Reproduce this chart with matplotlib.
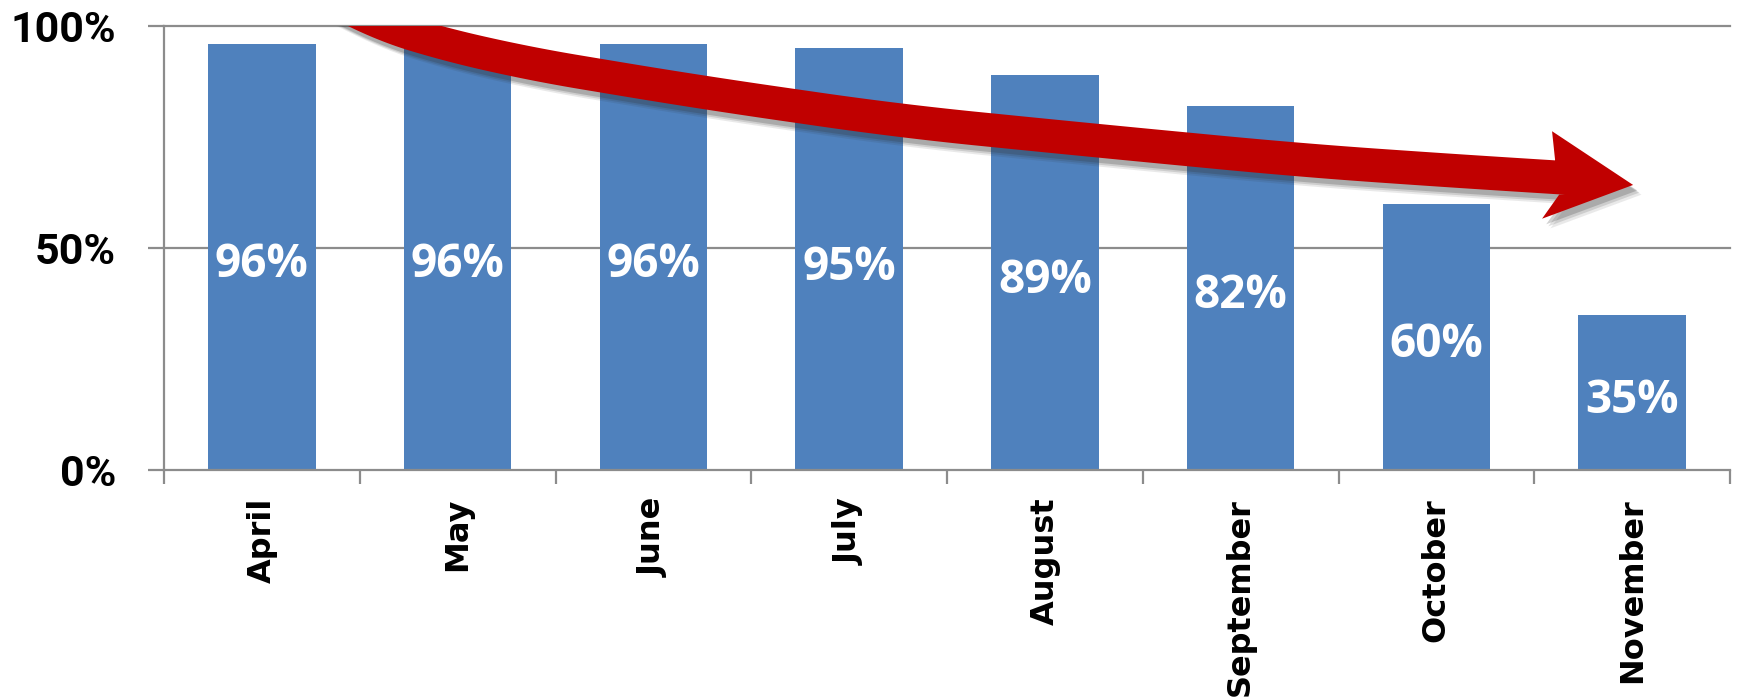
import numpy as np
import matplotlib
matplotlib.use("Agg")
import matplotlib.pyplot as plt
from matplotlib.patches import Polygon
from matplotlib.ticker import FixedLocator
import matplotlib.patheffects as pe
from matplotlib.transforms import offset_copy

# ---- data ----
months = ["April", "May", "June", "July", "August", "September", "October", "November"]
values = [0.96, 0.96, 0.96, 0.95, 0.89, 0.82, 0.60, 0.35]
value_labels = ["96%", "96%", "96%", "95%", "89%", "82%", "60%", "35%"]
y_ticks = [0.0, 0.5, 1.0]
y_tick_labels = ["0%", "50%", "100%"]

# decorative trend arrow (data coords: x = category index, y = fraction)
arrow_cx = [0.195, 0.363, 0.706, 1.216, 2.238, 3.260, 4.282, 5.303, 5.814, 6.325, 6.657]
arrow_cy = [1.092, 1.036, 0.986, 0.926, 0.851, 0.786, 0.741, 0.698, 0.682, 0.667, 0.658]
arrow_half = 0.038
head_pts = [(6.591, 0.763), (7.005, 0.642), (6.540, 0.566)]

BAR = "#4F81BD"
RED = "#C00000"
GRID = "#8C8C8C"

fig = plt.figure(figsize=(17.38, 6.99), dpi=100)
ax = fig.add_axes([164/1738, 1 - 470/699, (1730-164)/1738, (470-26)/699])

x = np.arange(len(months))
bars = ax.bar(x, values, width=0.55, color=BAR, zorder=2)
lab_tr = offset_copy(ax.transData, fig=fig, x=0, y=-8, units="dots")
for xi, v, lab in zip(x, values, value_labels):
    ax.text(xi, v / 2, lab, transform=lab_tr, ha="center", va="center", color="white",
            fontsize=33, fontweight="bold", family=["Open Sans", "DejaVu Sans"], zorder=3)

ax.set_xlim(-0.5, len(months) - 0.5)
ax.set_ylim(0, 1)

# grid
for yv in y_ticks[1:]:
    ax.axhline(yv, color=GRID, lw=1.6, zorder=1, clip_on=False)

for s in ["top", "right"]:
    ax.spines[s].set_visible(False)
for s in ["left", "bottom"]:
    ax.spines[s].set_color(GRID)
    ax.spines[s].set_linewidth(1.6)

ax.set_yticks(y_ticks)
ax.set_yticklabels(y_tick_labels, fontsize=31, fontweight="bold",
                   family=["Roboto", "DejaVu Sans"])
ax.tick_params(axis="y", length=11.5, width=1.6, color=GRID, pad=23)

ax.set_xticks(x)
ax.set_xticklabels(months, rotation=90, fontsize=23, fontweight="bold",
                   family=["DejaVu Sans"], va="top", ha="center")
ax.tick_params(axis="x", which="major", length=0, pad=20)
ax.xaxis.set_minor_locator(FixedLocator(np.arange(len(months) + 1) - 0.5))
ax.tick_params(axis="x", which="minor", length=10, width=1.6, color=GRID)

# arrow shaft (smoothed centerline through the read points)
cx = np.array(arrow_cx)
cy = np.array(arrow_cy)
xs = np.linspace(cx[0], cx[-1], 400)
ys = np.interp(xs, cx, cy)
k = 25
ys_pad = np.concatenate([np.full(k, ys[0]) + (ys[0] - ys[k:0:-1]), ys,
                         np.full(k, ys[-1]) + (ys[-1] - ys[-2:-k-2:-1])])
ys = np.convolve(ys_pad, np.ones(2 * k + 1) / (2 * k + 1), mode="same")[k:-k]
upper = list(zip(xs, ys + arrow_half))
lower = list(zip(xs[::-1], (ys - arrow_half)[::-1]))
poly_pts = upper + [(xs[-1] - 0.05, ys[-1] + arrow_half), head_pts[0], head_pts[1],
                    head_pts[2], (xs[-1] - 0.03, ys[-1] - arrow_half)] + lower
shadows = [pe.SimplePatchShadow(offset=(o, -o - 1), shadow_rgbFace="#303030", alpha=a)
           for o, a in [(6, 0.10), (4.5, 0.15), (3, 0.22)]]
arrow = Polygon(poly_pts, closed=True, facecolor=RED, edgecolor="none", zorder=4,
                path_effects=shadows + [pe.Normal()])
ax.add_patch(arrow)

fig.savefig("out.png", dpi=100, facecolor="white")
